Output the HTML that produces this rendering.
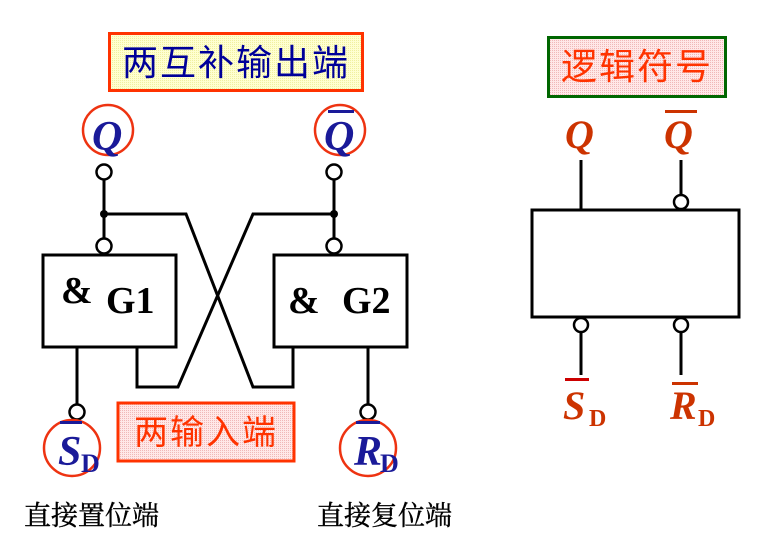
<!DOCTYPE html>
<html><head><meta charset="utf-8"><style>
body{margin:0;background:#fff}
</style></head><body>
<svg width="762" height="540" xmlns="http://www.w3.org/2000/svg" style="display:block">
<defs>
<pattern id="yel" width="2" height="2" patternUnits="userSpaceOnUse"><rect width="2" height="2" fill="#ffffd0"/><rect width="1" height="1" fill="#f0f0a0"/></pattern>
<pattern id="pnk" width="2" height="2" patternUnits="userSpaceOnUse"><rect width="2" height="2" fill="#ffe8e8"/><rect width="1" height="1" fill="#f0b8b8"/></pattern>
</defs>
<g stroke="#000" stroke-width="3" fill="none">
<rect x="43" y="255" width="133" height="92"/>
<rect x="274" y="255" width="133" height="92"/>
<line x1="104" y1="180" x2="104" y2="238"/>
<line x1="334" y1="180" x2="334" y2="238"/>
<polyline points="104,214 186,214 253,387 293,387 293,347"/>
<polyline points="334,214 253,214 178,387 137,387 137,347"/>
<line x1="77" y1="347" x2="77" y2="404"/>
<line x1="368" y1="347" x2="368" y2="404"/>
<rect x="532" y="210" width="207" height="107"/>
<line x1="581" y1="160" x2="581" y2="210"/>
<line x1="681" y1="160" x2="681" y2="195"/>
<line x1="581" y1="332" x2="581" y2="375"/>
<line x1="681" y1="332" x2="681" y2="375"/>
</g>
<g stroke="#000" stroke-width="2.5" fill="#fff">
<circle cx="104" cy="172" r="7.5"/><circle cx="104" cy="246" r="7.5"/>
<circle cx="334" cy="172" r="7.5"/><circle cx="334" cy="246" r="7.5"/>
<circle cx="77" cy="412" r="7.5"/><circle cx="368" cy="412" r="7.5"/>
<circle cx="681" cy="202" r="7"/><circle cx="581" cy="325" r="7"/><circle cx="681" cy="325" r="7"/>
</g>
<circle cx="104" cy="214" r="4" fill="#000"/><circle cx="334" cy="214" r="4" fill="#000"/>
<g font-family="Liberation Serif, serif" font-weight="bold" font-size="38" fill="#000">
<text x="61" y="303">&amp;</text><text x="106" y="313">G1</text>
<text x="288" y="313">&amp;</text><text x="342" y="313">G2</text>
</g>
<g stroke="#ee3311" stroke-width="2.5" fill="none">
<circle cx="108" cy="130" r="25"/><circle cx="340" cy="130" r="25"/>
<circle cx="72" cy="448" r="28"/><circle cx="368" cy="448" r="28"/>
</g>
<g font-family="Liberation Serif, serif" font-weight="bold" font-style="italic" fill="#1a1a99" font-size="42">
<text x="92" y="150">Q</text>
<text x="324" y="150">Q</text><rect x="328" y="110" width="26" height="3" fill="#1a1a99"/>
<text x="58" y="465">S</text><text x="81" y="472" font-style="normal" font-size="26">D</text><rect x="60" y="421" width="22" height="3" fill="#1a1a99"/>
<text x="354" y="465">R</text><text x="380" y="472" font-style="normal" font-size="26">D</text><rect x="356" y="421" width="24" height="3" fill="#1a1a99"/>
</g>
<rect x="109.5" y="33.5" width="253" height="57" fill="url(#yel)" stroke="#ff3300" stroke-width="3"/>
<text x="236" y="75" text-anchor="middle" font-family="Liberation Sans, Noto Sans CJK SC, sans-serif" font-size="36" fill="#000099" letter-spacing="2">两互补输出端</text>
<rect x="118" y="403" width="176" height="58" fill="url(#pnk)" stroke="#ff3300" stroke-width="3"/>
<text x="206" y="444" text-anchor="middle" font-family="Liberation Sans, Noto Sans CJK SC, sans-serif" font-size="34" fill="#ff3300" letter-spacing="2">两输入端</text>
<rect x="548.5" y="37.5" width="177" height="59" fill="url(#pnk)" stroke="#006600" stroke-width="3"/>
<text x="637" y="79" text-anchor="middle" font-family="Liberation Sans, Noto Sans CJK SC, sans-serif" font-size="36" fill="#ff3300" letter-spacing="2">逻辑符号</text>
<g font-family="Liberation Serif, serif" font-weight="bold" font-style="italic" fill="#cc3300" font-size="40">
<text x="565" y="148">Q</text>
<text x="664" y="148">Q</text><rect x="665" y="110" width="32" height="3"/>
<text x="563" y="419">S</text><text x="589" y="426" font-style="normal" font-size="24">D</text><rect x="565" y="378" width="24" height="3" fill="#cc0000"/>
<text x="670" y="419">R</text><text x="698" y="426" font-style="normal" font-size="24">D</text><rect x="672" y="382" width="26" height="3"/>
</g>
<g font-family="Liberation Serif, Noto Serif CJK SC, serif" font-size="27" fill="#000" stroke="#000" stroke-width="0.4">
<text x="24" y="525">直接置位端</text>
<text x="317" y="525">直接复位端</text>
</g>
</svg>
</body></html>
